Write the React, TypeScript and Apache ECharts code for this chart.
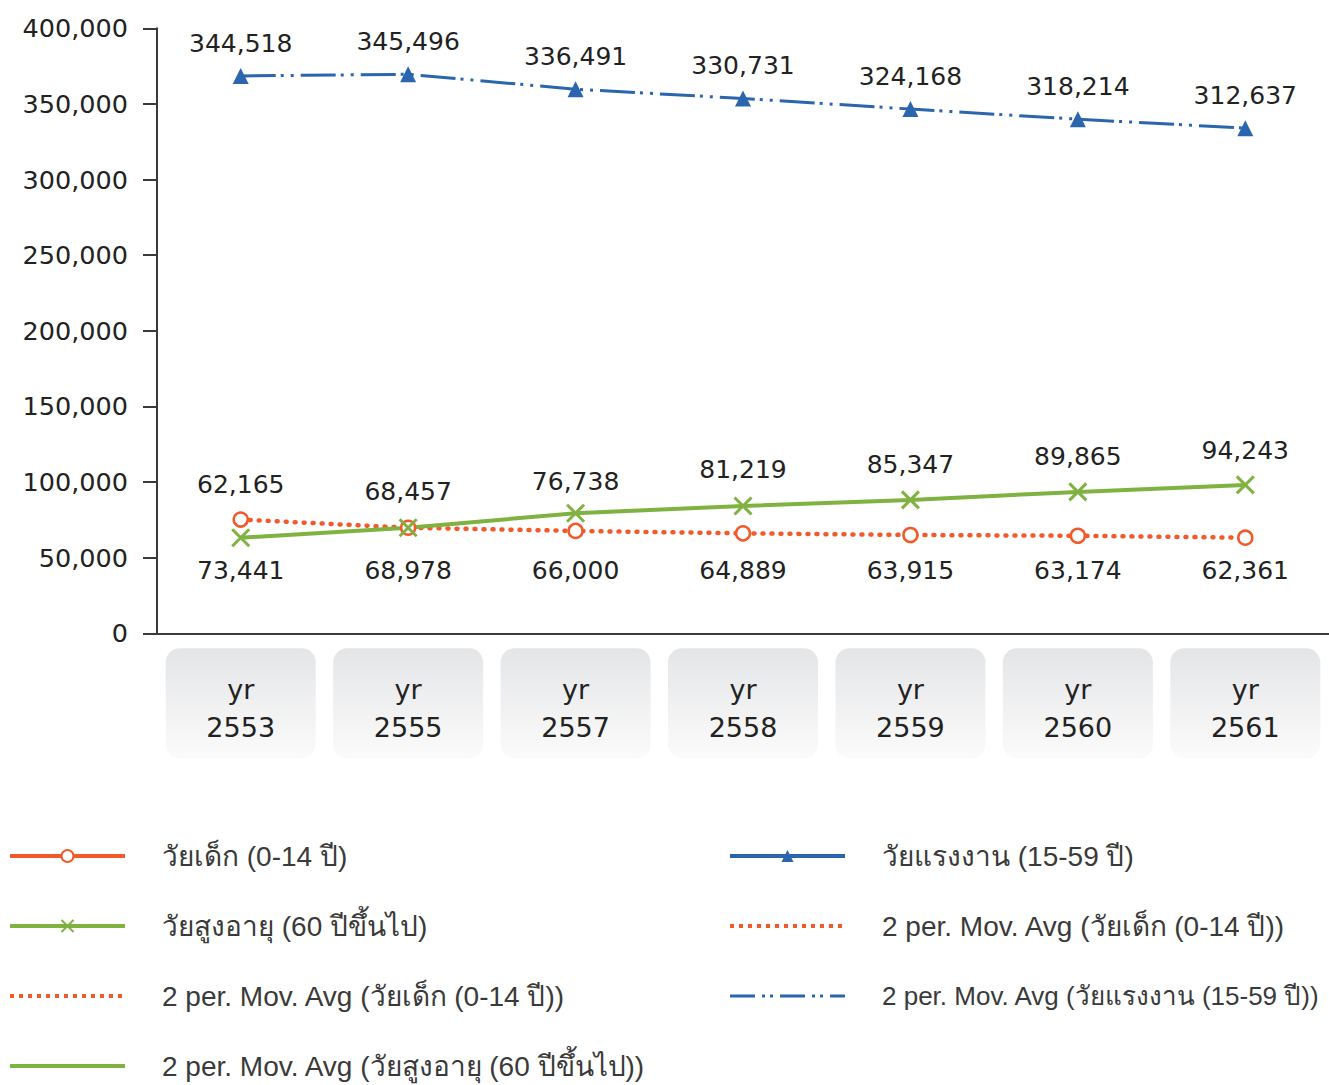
import React, { useEffect, useRef } from "react";
import * as echarts from "echarts";

// ---- data ----
const categories = ["yr 2553", "yr 2555", "yr 2557", "yr 2558", "yr 2559", "yr 2560", "yr 2561"];
// marker positions as drawn in the picture
const childPlotted = [75200, 69800, 67700, 66100, 65000, 64500, 63200];
const elderPlotted = [63200, 69800, 79400, 84200, 88200, 93500, 98100];
const workingPlotted = [368500, 369600, 359700, 353600, 346600, 339900, 334000];
// printed data labels
const childLabels = [73441, 68978, 66000, 64889, 63915, 63174, 62361];
const elderLabels = [62165, 68457, 76738, 81219, 85347, 89865, 94243];
const workingLabels = [344518, 345496, 336491, 330731, 324168, 318214, 312637];
const yTicks = { min: 0, max: 400000, interval: 50000 };

const nameChild = "วัยเด็ก (0-14 ปี)";
const nameElder = "วัยสูงอายุ (60 ปีขึ้นไป)";
const nameWorking = "วัยแรงงาน (15-59 ปี)";
const maChild = "2 per. Mov. Avg (วัยเด็ก (0-14 ปี))";
const maElder = "2 per. Mov. Avg (วัยสูงอายุ (60 ปีขึ้นไป))";
const maWorking = "2 per. Mov. Avg (วัยแรงงาน (15-59 ปี))";

// ---- style ----
const ORANGE = "#f25a2b";
const GREEN = "#7fb241";
const BLUE = "#2a65ae";
const TEXT = "#222222";
const NUM_FONT = "DejaVu Sans";
const LEG_FONT = "'Liberation Sans Narrow', 'Liberation Sans', 'Noto Sans', sans-serif";
const childNudge = [18, 10, 7, 4, 3, 2, 0];
const elderNudge = [-19, -2, 3, -2, -1, -1, 0];
const CROSS = "path://M0,0L10,10M10,0L0,10";
const DOTTED = [1, 8];
const DASH_DOT_DOT = [35, 5, 3, 7, 3, 7];

const fmt = (v: number) => v.toLocaleString("en-US");

export default function App() {
  const ref = useRef<HTMLDivElement>(null);
  useEffect(() => {
    if (!ref.current) return;
    const chart = echarts.init(ref.current, null, { renderer: "svg" });
    const labelBase = {
      show: true,
      fontFamily: NUM_FONT,
      fontSize: 25,
      color: TEXT,
    };
    const legendCommon = {
      orient: "vertical" as const,
      top: 841,
      height: 244,
      padding: 0,
      itemWidth: 115,
      itemHeight: 15,
      itemGap: 40,
      textStyle: {
        fontFamily: LEG_FONT,
        fontSize: 28,
        lineHeight: 30,
        color: "#3a3a3a",
        padding: [0, 0, 0, 32],
      },
    };
    const solidLeg = (name: string, color: string) => ({
      name,
      lineStyle: { color, width: 4, type: "solid", opacity: 1 },
    });
    const lineLeg = (name: string, color: string, type: any, width: number, cap = "butt") => ({
      name,
      itemStyle: { opacity: 0 },
      lineStyle: { color, width, type, cap, opacity: 1 },
    });
    chart.setOption({
      animation: false,
      backgroundColor: "#ffffff",
      grid: { left: 157, top: 28.3, width: 1172, height: 605, containLabel: false },
      xAxis: {
        type: "category",
        data: categories,
        boundaryGap: true,
        axisLine: { show: true, lineStyle: { color: "#3a3a3a", width: 2 } },
        axisTick: { show: false },
        axisLabel: {
          interval: 0,
          margin: 15,
          formatter: (v: string) => v.replace(" ", "\n"),
          fontFamily: NUM_FONT,
          fontSize: 27,
          color: TEXT,
          lineHeight: 38,
          width: 150,
          height: 76,
          padding: [22, 0, 12, 0],
          align: "center",
          verticalAlign: "top",
          borderRadius: 14,
          backgroundColor: new echarts.graphic.LinearGradient(0, 0, 0, 1, [
            { offset: 0, color: "#e4e5e7" },
            { offset: 1, color: "#fbfbfb" },
          ]),
        },
        splitLine: { show: false },
      },
      yAxis: {
        type: "value",
        min: yTicks.min,
        max: yTicks.max,
        interval: yTicks.interval,
        axisLine: { show: true, lineStyle: { color: "#3a3a3a", width: 2 } },
        axisTick: { show: true, length: 14, lineStyle: { color: "#3a3a3a", width: 2 } },
        axisLabel: {
          margin: 29,
          formatter: (v: number) => fmt(v),
          fontFamily: NUM_FONT,
          fontSize: 25.5,
          color: TEXT,
        },
        splitLine: { show: false },
      },
      legend: [
        {
          ...legendCommon,
          left: 8,
          data: [
            solidLeg(nameChild, ORANGE),
            solidLeg(nameElder, GREEN),
            lineLeg(maChild, ORANGE, [4, 5], 4),
            lineLeg(maElder, GREEN, "solid", 4),
          ],
        },
        {
          ...legendCommon,
          left: 728,
          data: [
            solidLeg(nameWorking, BLUE),
            lineLeg(maChild, ORANGE, [4, 5], 4),
            {
              ...lineLeg(maWorking, BLUE, [25, 7, 3, 5, 3, 7], 3),
              textStyle: { fontSize: 26 },
            },
          ],
        },
      ],
      series: [
        {
          name: nameChild,
          type: "line",
          data: childPlotted.map((v, i) => ({ value: v, label: { offset: [0, childNudge[i]] } })),
          symbol: "circle",
          symbolSize: 14,
          itemStyle: { color: "#ffffff", borderColor: ORANGE, borderWidth: 2.5 },
          lineStyle: { opacity: 0, color: ORANGE, width: 4 },
          label: {
            ...labelBase,
            position: "bottom",
            distance: 12,
            formatter: (p: any) => fmt(childLabels[p.dataIndex]),
          },
          z: 5,
        },
        {
          name: nameWorking,
          type: "line",
          data: workingPlotted,
          symbol: "triangle",
          symbolSize: 16,
          itemStyle: { color: BLUE },
          lineStyle: { opacity: 0, color: BLUE, width: 4 },
          label: {
            ...labelBase,
            position: "top",
            distance: 12,
            formatter: (p: any) => fmt(workingLabels[p.dataIndex]),
          },
          z: 5,
        },
        {
          name: nameElder,
          type: "line",
          data: elderPlotted.map((v, i) => ({ value: v, label: { offset: [0, elderNudge[i]] } })),
          symbol: CROSS,
          symbolSize: 17,
          itemStyle: { color: GREEN, borderColor: GREEN, borderWidth: 3 },
          lineStyle: { opacity: 0, color: GREEN, width: 4 },
          label: {
            ...labelBase,
            position: "top",
            distance: 12,
            formatter: (p: any) => fmt(elderLabels[p.dataIndex]),
          },
          z: 5,
        },
        {
          name: maChild,
          type: "line",
          data: childPlotted,
          showSymbol: false,
          symbol: "none",
          itemStyle: { color: ORANGE },
          lineStyle: { color: ORANGE, width: 4.5, type: DOTTED, cap: "round" },
          z: 3,
        },
        {
          name: maElder,
          type: "line",
          data: elderPlotted,
          showSymbol: false,
          symbol: "none",
          itemStyle: { color: GREEN },
          lineStyle: { color: GREEN, width: 4, type: "solid" },
          z: 3,
        },
        {
          name: maWorking,
          type: "line",
          data: workingPlotted,
          showSymbol: false,
          symbol: "none",
          itemStyle: { color: BLUE },
          lineStyle: { color: BLUE, width: 3, type: DASH_DOT_DOT },
          z: 3,
        },
      ],
    });
    return () => chart.dispose();
  }, []);
  return (
    <div
      ref={ref}
      style={{ position: "fixed", left: 0, top: 0, width: 1329, height: 1085, background: "#fff" }}
    />
  );
}
